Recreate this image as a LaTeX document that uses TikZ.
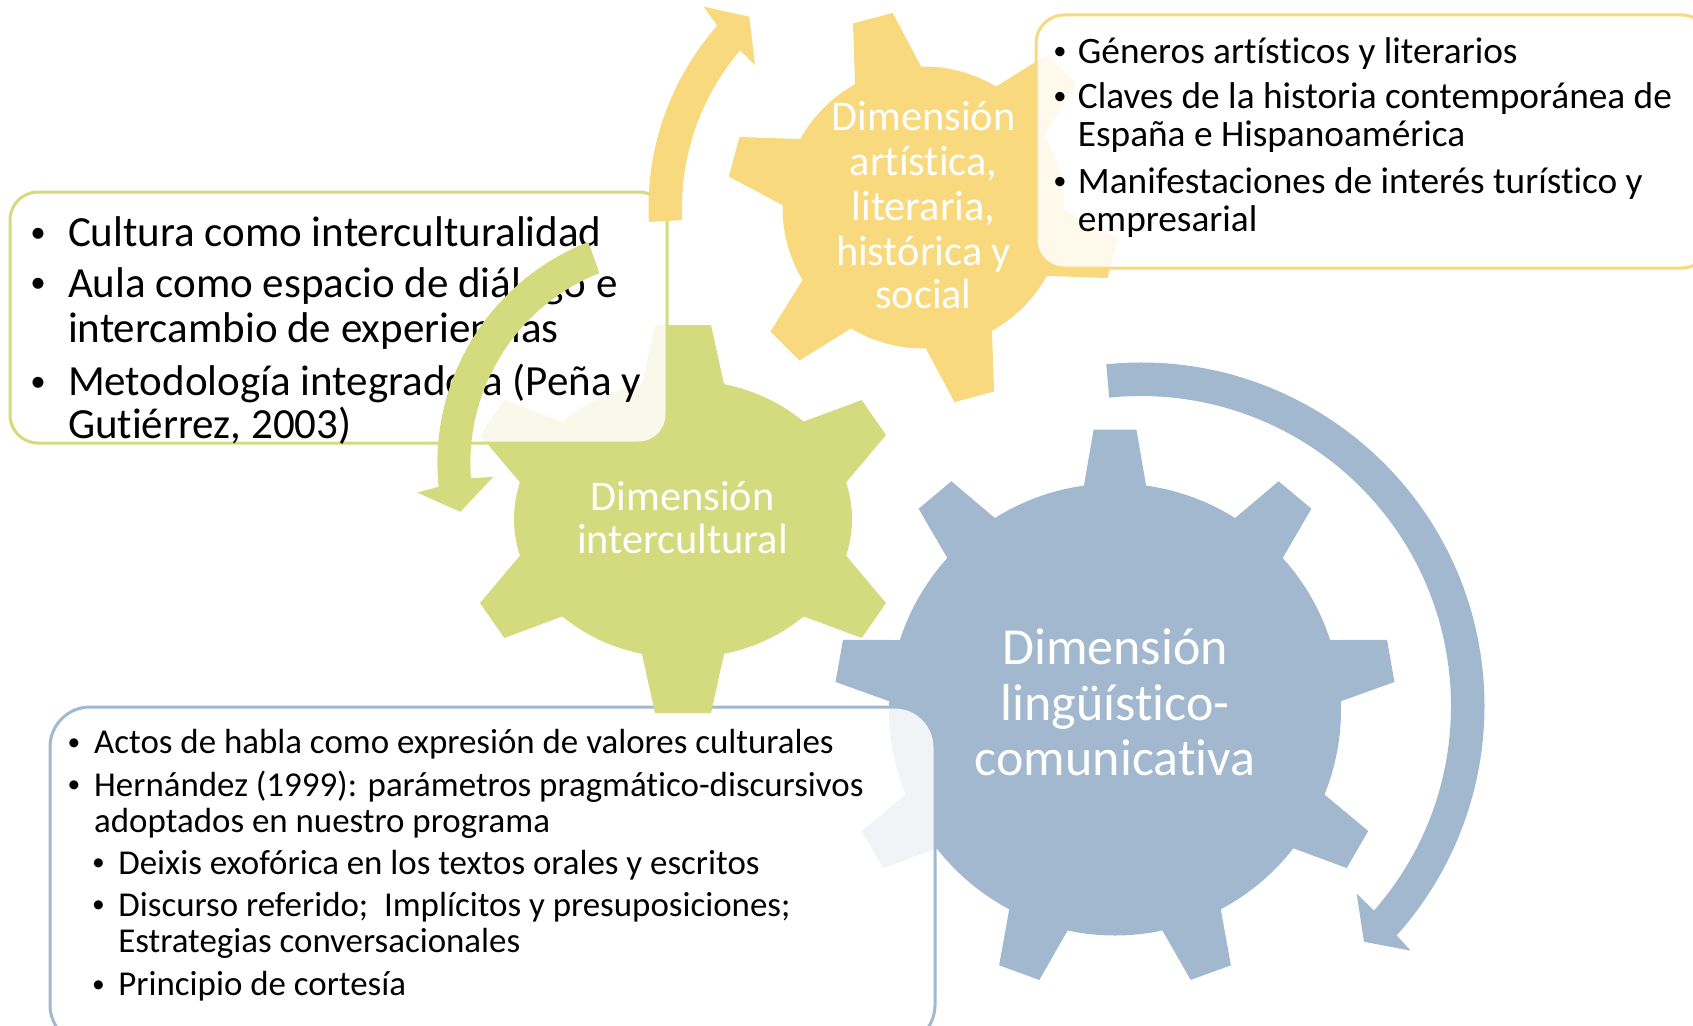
\documentclass[tikz,border=0pt]{standalone}
\usepackage{fontspec}
\setmainfont{Carlito}[Ligatures={NoCommon,NoContextual},Contextuals={NoAlternate}]
\definecolor{yel}{RGB}{249,217,126}
\definecolor{grn}{RGB}{212,219,126}
\definecolor{blu}{RGB}{162,184,206}
\begin{document}
\begin{tikzpicture}[x=1pt,y=1pt,
  boxtxt/.style={anchor=base west,inner sep=0pt,text=black},
  bul/.style={anchor=base,inner sep=0pt,text=black},
  geartxt/.style={anchor=base,inner sep=0pt,text=white},
  panel/.style={line width=3pt,fill=white,fill opacity=0.85,rounded corners=#1},
  fgreen/.style={font=\fontsize{43}{48}\selectfont},
  fyellow/.style={font=\fontsize{37.3}{42}\selectfont},
  fblue/.style={font=\fontsize{34.9}{40}\selectfont},
  bgreen/.style={font=\fontsize{31}{36}\selectfont},
  byellow/.style={font=\fontsize{26.5}{30}\selectfont},
  bblue/.style={font=\fontsize{25.5}{30}\selectfont},
  fgear/.style={font=\fontsize{42.3}{48}\selectfont},
  fbig/.style={font=\fontsize{52}{58}\selectfont}]
\useasboundingbox (0,0) rectangle (1693,-1025);

% ---- blue gear
\begin{scope}[shift={(1115,-709.5)}]
  \fill[blu] (0,0) circle[radius=226];
  \foreach \a in {10,50,...,330}
    \fill[blu,rotate=\a] (280,-21.4) -- (280,21.4) -- (190,36.9) -- (190,-36.9) -- cycle;
\end{scope}

% ---- blue box
\draw[blu,panel=40] (50,-707) rectangle (935,-1045);

% ---- green gear
\fill[grn] (683,-519) ellipse[x radius=169,y radius=139];
\fill[grn] (655,-325) -- (711,-325) -- (732,-420) -- (634,-420) -- cycle;
\fill[grn] (655,-713) -- (711,-713) -- (732,-618) -- (634,-618) -- cycle;
\fill[grn] (861.7,-400) -- (886,-435) -- (834.9,-495.7) -- (785.8,-428.2) -- cycle;
\fill[grn] (861.7,-638) -- (886,-603) -- (834.9,-542.3) -- (785.8,-609.8) -- cycle;
\fill[grn] (504.3,-400) -- (480,-435) -- (531.1,-495.7) -- (580.2,-428.2) -- cycle;
\fill[grn] (504.3,-638) -- (480,-603) -- (531.1,-542.3) -- (580.2,-609.8) -- cycle;

% ---- yellow gear
\begin{scope}[shift={(923.5,-207.5)}]
  \fill[yel] (0,0) circle[radius=141];
  \foreach \a in {45,105,...,345}
    \fill[yel,rotate=\a] (196,-20.5) -- (196,20.5) -- (110,40.4) -- (110,-40.4) -- cycle;
\end{scope}

% ---- text panels
\draw[yel,panel=28] (1036,-15) rectangle (1710,-268);
\draw[grn,panel=28] (10,-192) rectangle (667,-443);

% ---- green panel text
\node[bul,bgreen] (gb1) at (38,-242.1) {•};
\node[bul,bgreen] (gb2) at (38,-292.4) {•};
\node[bul,bgreen] (gb3) at (38,-391.1) {•};
\node[boxtxt,fgreen] (gt1) at (67.8,-246.7) {Cultura como interculturalidad};
\node[boxtxt,fgreen] (gt2) at (67.8,-297) {Aula como espacio de diálogo e};
\node[boxtxt,fgreen] (gt3) at (67.8,-342.3) {intercambio de experiencias};
\node[boxtxt,fgreen] (gt4) at (67.8,-395.7) {Metodología integradora (Peña y};
\node[boxtxt,fgreen] (gt5) at (67.8,-438.3) {Gutiérrez, 2003)};

% ---- yellow panel text
\node[bul,byellow] (yb1) at (1060,-59.4) {•};
\node[bul,byellow] (yb2) at (1060,-104.4) {•};
\node[bul,byellow] (yb3) at (1060,-189.4) {•};
\node[boxtxt,fyellow] (yt1) at (1077.7,-63.3) {Géneros artísticos y literarios};
\node[boxtxt,fyellow] (yt2) at (1077.7,-108.3) {Claves de la historia contemporánea de};
\node[boxtxt,fyellow] (yt3) at (1077.7,-146.7) {España e Hispanoamérica};
\node[boxtxt,fyellow] (yt4) at (1077.7,-193.3) {Manifestaciones de interés turístico y};
\node[boxtxt,fyellow] (yt5) at (1077.7,-231.7) {empresarial};

% ---- blue panel text
\node[bul,bblue] (bb1) at (74,-750.2) {•};
\node[bul,bblue] (bb2) at (74,-792.9) {•};
\node[bul,bblue] (bb3) at (98.5,-870.6) {•};
\node[bul,bblue] (bb4) at (98.5,-912.4) {•};
\node[bul,bblue] (bb5) at (98.5,-992.1) {•};
\node[boxtxt,fblue] (bt1) at (94,-753.9) {Actos de habla como expresión de valores culturales};
\node[boxtxt,fblue] (bt2) at (94,-796.6) {Hernández (1999): parámetros pragmático-discursivos};
\node[boxtxt,fblue] (bt3) at (94,-832.4) {adoptados en nuestro programa};
\node[boxtxt,fblue] (bt4) at (118.2,-874.3) {Deixis exofórica en los textos orales y escritos};
\node[boxtxt,fblue] (bt5) at (118.2,-916.1) {Discurso referido;~ Implícitos y presuposiciones;};
\node[boxtxt,fblue] (bt6) at (118.2,-952) {Estrategias conversacionales};
\node[boxtxt,fblue] (bt7) at (118.2,-995.8) {Principio de cortesía};

% ---- gear labels
\node[geartxt,fbig] (l1) at (1115,-664.6) {Dimensión};
\node[geartxt,fbig] (l2) at (1115,-720) {lingüístico-};
\node[geartxt,fbig] (l3) at (1115,-775.3) {comunicativa};
\node[geartxt,fgear] (m1) at (682.5,-510) {Dimensión};
\node[geartxt,fgear] (m2) at (682.5,-553.3) {intercultural};
\node[geartxt,fgear] (n1) at (923.5,-130) {Dimensión};
\node[geartxt,fgear] (n2) at (923.5,-175) {artística,};
\node[geartxt,fgear] (n3) at (923.5,-220) {literaria,};
\node[geartxt,fgear] (n4) at (923.5,-265) {histórica y};
\node[geartxt,fgear] (n5) at (923.5,-308.3) {social};

% ---- circular arrows
\begin{scope}[shift={(923.5,-207.5)}]
  \fill[yel] (183:275) arc[start angle=183,end angle=138.6,radius=275]
    -- (137.6:298) -- (132.4:258.4) -- (139.8:220.7) -- (139.4:241.5)
    arc[start angle=139.4,end angle=183,radius=241.5] -- cycle;
\end{scope}
\begin{scope}[shift={(674.4,-462.8)}]
  \fill[grn] (111.3:237) arc[start angle=111.3,end angle=185.8,radius=237]
    -- (186.6:259) -- (192.9:219.6) -- (184.4:181.6) -- (184.4:204)
    arc[start angle=184.4,end angle=111.6,radius=204] -- cycle;
\end{scope}
\begin{scope}[shift={(1141,-706)}]
  \fill[blu] (95.8:343.5) arc[start angle=95.8,end angle=-41.9,radius=343.5]
    -- (-42.2:364.2) -- (-46.6:324.5) -- (-41:285.7) -- (-41.3:310)
    arc[start angle=-41.3,end angle=95.9,radius=310] -- cycle;
\end{scope}
\end{tikzpicture}
\end{document}
